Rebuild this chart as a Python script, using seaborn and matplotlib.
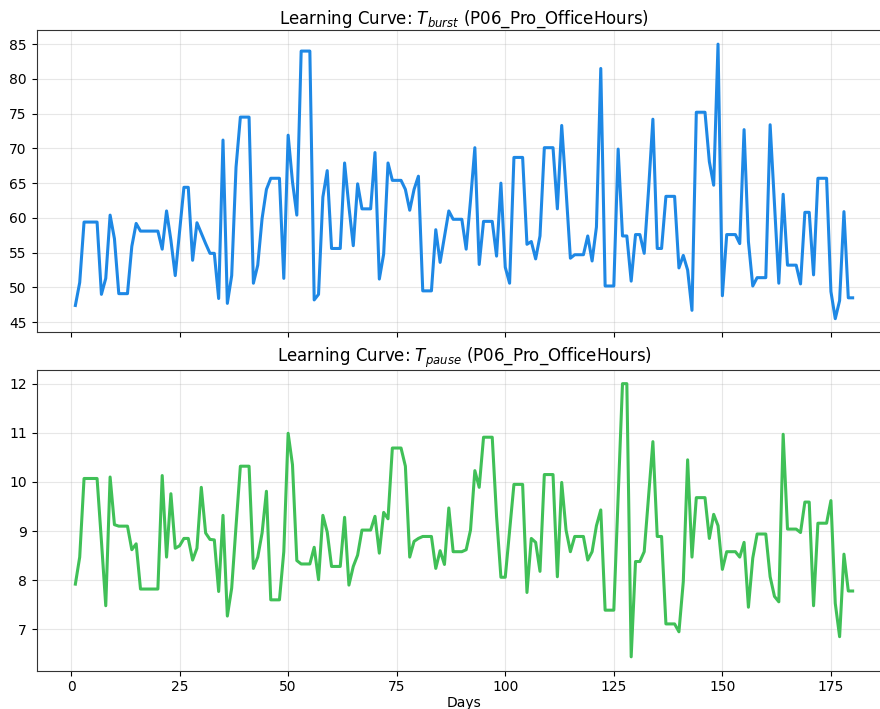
import numpy as np
import pandas as pd
import matplotlib
matplotlib.use("Agg")
import matplotlib.pyplot as plt
import seaborn as sns

participant = "P06_Pro_OfficeHours"
days = list(range(1, 181))

t_burst = [
    47.4, 50.7, 59.4, 59.4, 59.4, 59.4, 49.0, 51.3, 60.4, 57.0,
    49.1, 49.1, 49.1, 55.9, 59.2, 58.1, 58.1, 58.1, 58.1, 58.1,
    55.5, 61.0, 56.8, 51.7, 58.0, 64.4, 64.4, 53.9, 59.3, 57.8,
    56.3, 54.9, 54.9, 48.4, 71.2, 47.7, 51.7, 67.3, 74.5, 74.5,
    74.5, 50.6, 53.2, 59.9, 64.1, 65.7, 65.7, 65.7, 51.3, 71.9,
    65.2, 60.4, 84.0, 84.0, 84.0, 48.2, 49.0, 63.0, 66.8, 55.6,
    55.6, 55.6, 67.9, 61.6, 56.0, 64.9, 61.3, 61.3, 61.3, 69.4,
    51.2, 54.8, 67.9, 65.4, 65.4, 65.4, 64.1, 61.1, 64.1, 66.0,
    49.5, 49.5, 49.5, 58.3, 53.6, 57.3, 61.0, 59.8, 59.8, 59.8,
    55.5, 62.5, 70.1, 53.3, 59.5, 59.5, 59.5, 54.5, 65.0, 52.9,
    50.6, 68.7, 68.7, 68.7, 56.2, 56.6, 54.1, 57.4, 70.1, 70.1,
    70.1, 61.3, 73.3, 64.0, 54.2, 54.7, 54.7, 54.7, 57.4, 53.8,
    58.7, 81.5, 50.2, 50.2, 50.2, 69.9, 57.4, 57.4, 50.9, 57.6,
    57.6, 54.9, 64.0, 74.2, 55.6, 55.6, 63.1, 63.1, 63.1, 52.8,
    54.6, 52.5, 46.7, 75.2, 75.2, 75.2, 68.1, 64.7, 85.0, 48.8,
    57.6, 57.6, 57.6, 56.3, 72.7, 56.6, 50.2, 51.4, 51.4, 51.4,
    73.4, 62.0, 50.6, 63.4, 53.2, 53.2, 53.2, 50.5, 60.8, 60.8,
    51.8, 65.7, 65.7, 65.7, 49.4, 45.5, 48.1, 60.9, 48.5, 48.5,
]

t_pause = [
    7.92, 8.47, 10.07, 10.07, 10.07, 10.07, 8.80, 7.48, 10.10, 9.13,
    9.10, 9.10, 9.10, 8.62, 8.74, 7.82, 7.82, 7.82, 7.82, 7.82,
    10.13, 8.47, 9.76, 8.65, 8.70, 8.85, 8.85, 8.41, 8.65, 9.89,
    8.96, 8.83, 8.82, 7.77, 9.32, 7.27, 7.84, 9.10, 10.32, 10.32,
    10.32, 8.24, 8.47, 8.96, 9.81, 7.60, 7.60, 7.60, 8.58, 10.99,
    10.35, 8.40, 8.33, 8.33, 8.33, 8.67, 8.01, 9.32, 8.98, 8.28,
    8.28, 8.28, 9.28, 7.90, 8.28, 8.51, 9.02, 9.02, 9.02, 9.30,
    8.55, 9.38, 9.25, 10.69, 10.69, 10.69, 10.32, 8.47, 8.79, 8.85,
    8.89, 8.89, 8.89, 8.24, 8.60, 8.32, 9.47, 8.58, 8.58, 8.58,
    8.62, 9.02, 10.23, 9.89, 10.91, 10.91, 10.91, 9.30, 8.06, 8.06,
    9.00, 9.95, 9.95, 9.95, 7.75, 8.85, 8.77, 8.18, 10.15, 10.15,
    10.15, 8.07, 9.99, 9.02, 8.58, 8.89, 8.89, 8.89, 8.41, 8.58,
    9.11, 9.43, 7.39, 7.39, 7.39, 9.70, 12.00, 12.00, 6.44, 8.38,
    8.38, 8.58, 9.70, 10.82, 8.89, 8.89, 7.11, 7.11, 7.11, 6.95,
    7.97, 10.45, 8.47, 9.68, 9.68, 9.68, 8.85, 9.34, 9.11, 8.22,
    8.58, 8.58, 8.58, 8.47, 8.77, 7.45, 8.45, 8.94, 8.94, 8.94,
    8.07, 7.67, 7.56, 10.97, 9.04, 9.04, 9.04, 8.97, 9.59, 9.59,
    7.48, 9.16, 9.16, 9.16, 9.62, 7.53, 6.85, 8.53, 7.78, 7.78,
]

x_ticks = [0, 25, 50, 75, 100, 125, 150, 175]

df = pd.DataFrame({"Days": days, "T_burst": t_burst, "T_pause": t_pause})

W, H = 880, 709
fig = plt.figure(figsize=(W / 100, H / 100), dpi=100)

# axes placed in pixel terms; the right edge runs past the canvas
left = 36.5 / W
width = 855 / W
ax_top = fig.add_axes([left, (H - 332.4) / H, width, 302 / H])
ax_bot = fig.add_axes([left, (H - 670.5) / H, width, 300.5 / H], sharex=ax_top)

sns.lineplot(data=df, x="Days", y="T_burst", ax=ax_top, color="#1E88E5", linewidth=2.2)
sns.lineplot(data=df, x="Days", y="T_pause", ax=ax_bot, color="#40C057", linewidth=2.2)

ax_top.set_title(r"Learning Curve: $T_{burst}$ (" + participant + ")", fontsize=12, pad=5)
ax_bot.set_title(r"Learning Curve: $T_{pause}$ (" + participant + ")", fontsize=12, pad=5)

for ax in (ax_top, ax_bot):
    ax.grid(True, alpha=0.3)
    ax.set_ylabel("")
    ax.set_xticks(x_ticks)
    for s in ax.spines.values():
        s.set_color("#333333")

ax_top.set_xlabel("")
ax_top.tick_params(axis="x", labelbottom=False)
ax_bot.set_xlabel("Days", labelpad=1)

fig.savefig("out.png", dpi=100)
